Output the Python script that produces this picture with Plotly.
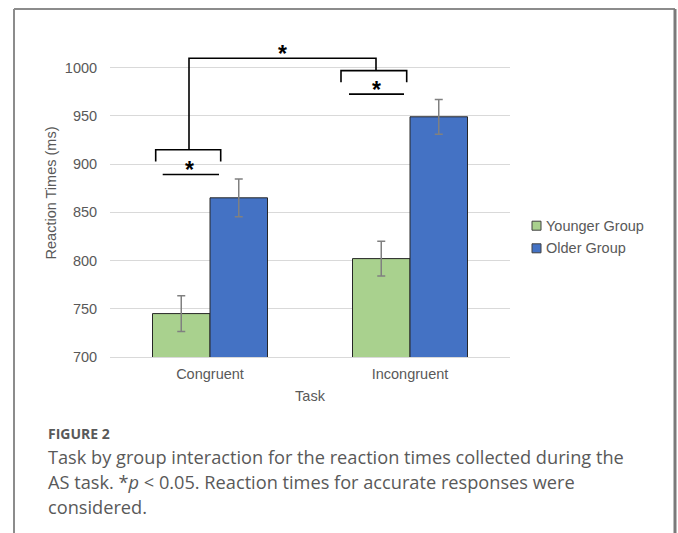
import plotly.graph_objects as go

# Mean reaction times (ms) and error half-widths per task and group
tasks = ["Congruent", "Incongruent"]
younger_rt = [745, 802]
younger_err = [18.5, 18]
older_rt = [865, 949]
older_err = [19.5, 18]
ytick_vals = [700, 750, 800, 850, 900, 950, 1000]

W, H = 678, 533
ML, MR, MT, MB = 110, 168, 29, 176
PW, PH = W - ML - MR, H - MT - MB


def px(xp):
    return (xp - ML) / PW


def py(yp):
    return (H - MB - yp) / PH


GREEN, BLUE = "#A9D18E", "#4472C4"

xpos = list(range(len(tasks)))
fig = go.Figure()
fig.add_trace(go.Bar(
    x=xpos, y=younger_rt, name="Younger Group",
    marker=dict(color=GREEN, line=dict(color="#262626", width=1)),
    error_y=dict(type="data", array=younger_err, color="#808080", thickness=1.5, width=4),
))
fig.add_trace(go.Bar(
    x=xpos, y=older_rt, name="Older Group",
    marker=dict(color=BLUE, line=dict(color="#262626", width=1)),
    error_y=dict(type="data", array=older_err, color="#808080", thickness=1.5, width=4),
))

axis_font = dict(family="Liberation Sans, Arial, sans-serif", size=14.5, color="#595959")

fig.update_layout(
    width=W, height=H,
    margin=dict(l=ML, r=MR, t=MT, b=MB),
    paper_bgcolor="white", plot_bgcolor="white",
    barmode="group", bargap=0.425, bargroupgap=0,
    font=axis_font,
    showlegend=False,
    xaxis=dict(
        range=[-0.5, len(tasks) - 0.5],
        tickvals=xpos, ticktext=tasks,
        showgrid=False, zeroline=False,
        showline=True, linecolor="#d9d9d9", linewidth=1,
        ticks="outside", ticklen=4, tickcolor="rgba(0,0,0,0)",
        title=dict(text="Task", font=axis_font, standoff=9),
    ),
    yaxis=dict(
        range=[700, 1040],
        tickvals=ytick_vals,
        showgrid=True, gridcolor="#d9d9d9", gridwidth=1,
        zeroline=False, showline=False,
        ticks="outside", ticklen=9, tickcolor="rgba(0,0,0,0)",
        title=dict(text="Reaction Times (ms)", font=axis_font, standoff=4),
    ),
)

# Legend: small outlined swatches with labels
for name, color, yc in [(fig.data[0].name, GREEN, 225.7), (fig.data[1].name, BLUE, 248.3)]:
    fig.add_shape(type="rect", xref="paper", yref="paper",
                  x0=px(532), x1=px(541), y0=py(yc - 4.5), y1=py(yc + 4.5),
                  fillcolor=color, line=dict(color="#404040", width=1))
    fig.add_annotation(xref="paper", yref="paper", x=px(544), y=py(yc),
                       xanchor="left", yanchor="middle", text=name, showarrow=False,
                       font=axis_font)

# Significance brackets (x in category units, y in ms)
line_style = dict(color="black", width=1.6)
brackets = [
    # Congruent: younger vs older
    "M -0.2715 902.6 L -0.2715 914.8 L 0.0535 914.8 L 0.0535 902.6",
    # Incongruent: younger vs older
    "M 0.655 984.9 L 0.655 996.9 L 0.9835 996.9 L 0.9835 984.9",
    # Congruent vs Incongruent (older group)
    "M -0.105 914.8 L -0.105 1009.7 L 0.83 1009.7 L 0.83 996.9",
]
for p in brackets:
    fig.add_shape(type="path", path=p, xref="x", yref="y", line=line_style)
for x0, x1, yv in [(-0.2365, 0.045, 889.2), (0.695, 0.97, 972.5)]:
    fig.add_shape(type="line", x0=x0, x1=x1, y0=yv, y1=yv, xref="x", yref="y", line=line_style)

for xa, ya in [(-0.105, 899), (0.8335, 982), (0.3635, 1019.4)]:
    fig.add_annotation(x=xa, y=ya, xref="x", yref="y", text="<b>*</b>", showarrow=False,
                       font=dict(family="Liberation Sans, Arial, sans-serif", size=23, color="black"),
                       yanchor="middle", yshift=-5)

# Figure frame
frame = dict(color="#8c8c8c", width=2)
fig.add_shape(type="line", xref="paper", yref="paper", x0=px(14), x1=px(14), y0=py(9), y1=py(540), line=frame)
fig.add_shape(type="line", xref="paper", yref="paper", x0=px(14), x1=px(675), y0=py(9), y1=py(9), line=frame)
fig.add_shape(type="line", xref="paper", yref="paper", x0=px(675), x1=px(675), y0=py(9), y1=py(540),
              line=dict(color="#7a7a7a", width=3))

# Caption
cap_font = dict(family="Open Sans, Noto Sans, sans-serif", size=18.2, color="#595959")
fig.add_annotation(xref="paper", yref="paper", x=px(46), y=py(433), xanchor="left", yanchor="middle",
                   text="<b>FIGURE 2</b>", showarrow=False,
                   font=dict(family="Open Sans, sans-serif", size=14, color="#595959"))
caption_lines = [
    "Task by group interaction for the reaction times collected during the",
    "AS task. *<i>p</i> &lt; 0.05. Reaction times for accurate responses were",
    "considered.",
]
for i, line in enumerate(caption_lines):
    fig.add_annotation(xref="paper", yref="paper", x=px(46), y=py(457 + 25 * i),
                       xanchor="left", yanchor="middle", text=line, showarrow=False,
                       font=cap_font, align="left")

fig.write_html("out.html")
